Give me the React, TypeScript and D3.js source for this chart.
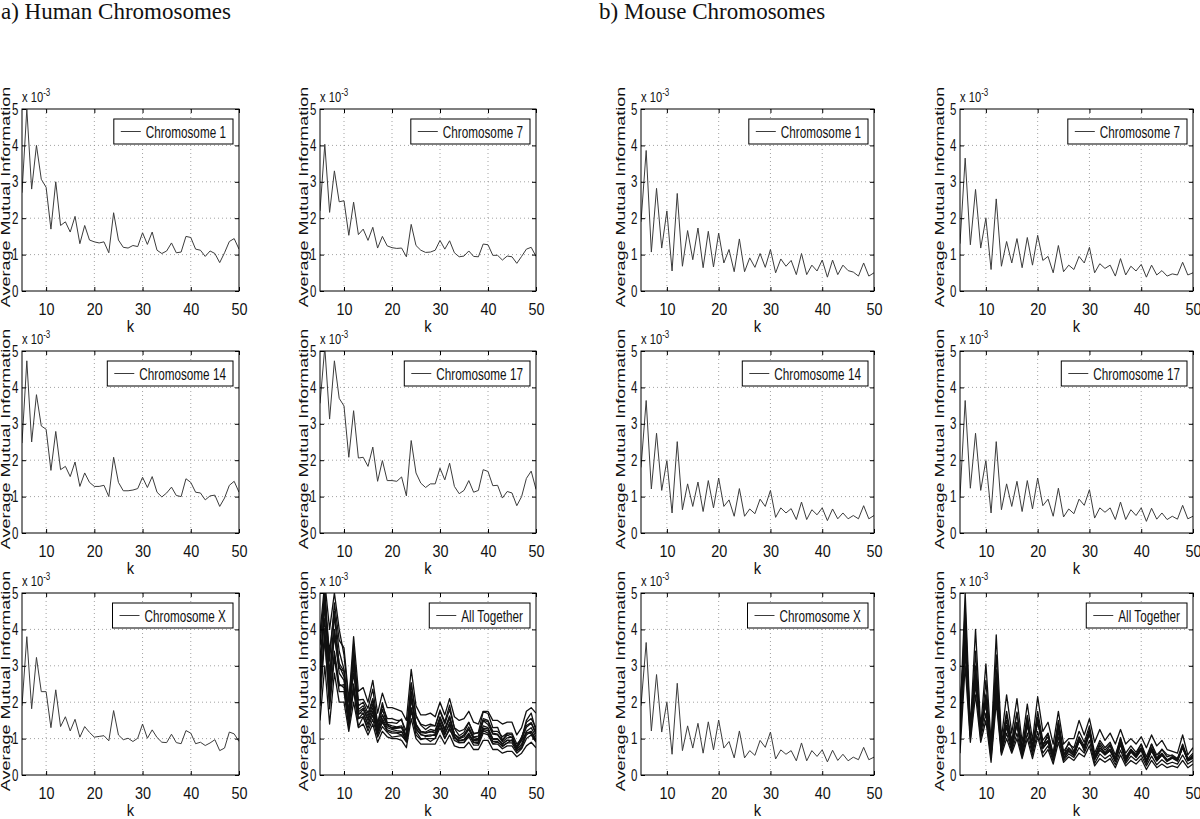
import React, { useEffect, useRef } from 'react';
import * as d3 from 'd3';

// ---------- data ----------
const K_VALUES = [5, 6, 7, 8, 9, 10, 11, 12, 13, 14, 15, 16, 17, 18, 19, 20, 21, 22, 23, 24, 25, 26, 27, 28, 29, 30,
  31, 32, 33, 34, 35, 36, 37, 38, 39, 40, 41, 42, 43, 44, 45, 46, 47, 48, 49, 50];
const X_TICKS = [10, 20, 30, 40, 50];
const Y_TICKS = [0, 1, 2, 3, 4, 5];
const GRID_X = [10, 20, 30, 40];
const GRID_Y = [1, 2, 3, 4];

const HUMAN_CHR1 = [2.7, 5.0, 2.8, 4.0, 3.07,
  2.85, 1.7, 3.0, 1.8, 1.9, 1.62, 2.05, 1.3, 1.8, 1.4,
  1.35, 1.32, 1.35, 1.05, 2.15, 1.4, 1.2, 1.18, 1.25, 1.22,
  1.6, 1.28, 1.62, 1.12, 1.03, 1.1, 1.32, 1.05, 1.07, 1.5,
  1.47, 1.15, 1.12, 0.95, 1.1, 1.03, 0.78, 1.05, 1.36, 1.44,
  1.15];
const HUMAN_CHR7 = [2.2, 4.03, 2.16, 3.3, 2.45,
  2.48, 1.53, 2.44, 1.55, 1.7, 1.39, 1.75, 1.18, 1.5, 1.24,
  1.19, 1.17, 1.18, 0.94, 1.83, 1.25, 1.12, 1.06, 1.07, 1.12,
  1.39, 1.15, 1.38, 1.05, 0.94, 0.96, 1.1, 0.95, 0.94, 1.29,
  1.27, 0.98, 0.98, 0.85, 0.96, 0.94, 0.76, 0.95, 1.15, 1.2,
  0.95];
const HUMAN_CHR14 = [2.47, 4.73, 2.5, 3.8, 2.94,
  2.85, 1.72, 2.79, 1.74, 1.83, 1.55, 1.95, 1.28, 1.65, 1.39,
  1.28, 1.28, 1.31, 1.0, 2.08, 1.39, 1.16, 1.16, 1.18, 1.22,
  1.53, 1.25, 1.55, 1.12, 0.99, 1.1, 1.26, 1.03, 1.0, 1.49,
  1.39, 1.12, 1.1, 0.91, 1.02, 1.04, 0.73, 0.96, 1.31, 1.42,
  1.12];
const HUMAN_CHR17 = [3.56, 5.1, 3.13, 4.73, 3.7,
  3.49, 2.08, 3.36, 2.06, 2.08, 1.83, 2.36, 1.42, 1.99, 1.44,
  1.44, 1.42, 1.54, 1.02, 2.54, 1.65, 1.37, 1.25, 1.35, 1.35,
  1.78, 1.46, 1.92, 1.28, 1.08, 1.17, 1.44, 1.12, 1.17, 1.74,
  1.69, 1.3, 1.31, 0.96, 1.14, 1.1, 0.75, 1.0, 1.5, 1.7,
  1.2];
const HUMAN_CHRX = [1.9, 3.8, 1.82, 3.23, 2.29,
  2.29, 1.3, 2.34, 1.33, 1.6, 1.21, 1.53, 1.04, 1.33, 1.17,
  1.04, 1.06, 1.08, 0.94, 1.77, 1.1, 0.97, 1.01, 0.92, 1.01,
  1.4, 1.01, 1.24, 1.03, 0.9, 0.89, 1.12, 0.89, 0.86, 1.22,
  1.15, 0.86, 0.9, 0.81, 0.88, 0.97, 0.67, 0.74, 1.18, 1.13,
  0.92];
const HUMAN_ALL_UPPER = [3.9, 5.3, 4.0, 5.0, 4.0,
  3.3, 2.0, 3.8, 2.3, 2.4, 2.0, 2.6, 1.7, 2.25, 1.85,
  1.85, 1.8, 1.75, 1.5, 2.9, 1.9, 1.65, 1.65, 1.7, 1.6,
  2.0, 1.65, 2.1, 1.6, 1.5, 1.55, 1.75, 1.45, 1.4, 1.75,
  1.75, 1.5, 1.5, 1.4, 1.45, 1.45, 1.1, 1.3, 1.75, 1.85,
  1.7];
const HUMAN_ALL_LOWER = [1.5, 3.0, 1.4, 2.8, 2.0,
  2.0, 1.2, 2.0, 1.3, 1.4, 1.1, 1.4, 0.9, 1.2, 1.05,
  1.0, 1.0, 0.95, 0.75, 1.55, 1.0, 0.85, 0.85, 0.85, 0.85,
  1.1, 0.85, 1.1, 0.8, 0.75, 0.75, 0.9, 0.7, 0.7, 0.95,
  0.95, 0.7, 0.7, 0.6, 0.65, 0.65, 0.5, 0.6, 0.8, 0.9,
  0.75];
const HUMAN_ALL_MID_A = [3.2, 4.6, 3.4, 4.5, 3.4,
  2.9, 1.7, 3.3, 1.9, 2.0, 1.7, 2.1, 1.4, 1.9, 1.55,
  1.55, 1.5, 1.5, 1.2, 2.5, 1.6, 1.4, 1.35, 1.4, 1.35,
  1.75, 1.4, 1.8, 1.3, 1.2, 1.25, 1.45, 1.15, 1.15, 1.55,
  1.5, 1.2, 1.2, 1.05, 1.15, 1.15, 0.85, 1.0, 1.45, 1.55,
  1.3];
const HUMAN_ALL_MID_B = [2.6, 3.7, 2.0, 3.4, 2.5,
  2.4, 1.4, 2.5, 1.55, 1.6, 1.3, 1.65, 1.1, 1.45, 1.2,
  1.15, 1.15, 1.1, 0.9, 1.85, 1.2, 1.0, 1.0, 1.0, 1.0,
  1.3, 1.0, 1.3, 0.95, 0.88, 0.9, 1.05, 0.82, 0.82, 1.15,
  1.1, 0.85, 0.85, 0.72, 0.8, 0.8, 0.6, 0.72, 1.0, 1.1,
  0.9];
const HUMAN_ALL_MID_C = [3.6, 5.0, 2.6, 4.4, 3.0,
  2.7, 1.55, 3.6, 1.65, 1.8, 1.5, 1.85, 1.2, 1.65, 1.35,
  1.3, 1.3, 1.3, 1.0, 2.3, 1.35, 1.2, 1.15, 1.2, 1.15,
  1.55, 1.2, 1.6, 1.1, 1.0, 1.05, 1.25, 0.98, 0.98, 1.35,
  1.3, 1.0, 1.0, 0.85, 0.95, 0.95, 0.7, 0.85, 1.2, 1.3,
  1.05];
const HUMAN_ALL_MID_D = [3.0, 4.3, 2.3, 3.9, 2.8,
  2.6, 1.45, 3.1, 1.7, 1.7, 1.4, 1.75, 1.15, 1.55, 1.3,
  1.25, 1.22, 1.2, 0.95, 2.1, 1.3, 1.1, 1.08, 1.1, 1.08,
  1.45, 1.1, 1.45, 1.02, 0.95, 0.98, 1.15, 0.9, 0.9, 1.25,
  1.22, 0.92, 0.92, 0.78, 0.88, 0.88, 0.65, 0.8, 1.1, 1.2,
  0.98];

const MOUSE_CHR1 = [1.9, 3.86, 1.07, 2.82, 1.18,
  2.2, 0.55, 2.68, 0.68, 1.66, 0.86, 1.73, 0.64, 1.64, 0.66,
  1.59, 0.77, 1.14, 0.53, 1.43, 0.53, 0.91, 0.65, 1.03, 0.65,
  1.14, 0.5, 0.88, 0.68, 0.84, 0.45, 1.03, 0.45, 0.71, 0.55,
  0.85, 0.38, 0.85, 0.45, 0.71, 0.56, 0.52, 0.41, 0.77, 0.41,
  0.5];
const MOUSE_CHR7 = [1.3, 3.65, 1.27, 2.79, 1.18,
  2.0, 0.59, 2.53, 0.68, 1.36, 0.77, 1.44, 0.64, 1.47, 0.71,
  1.53, 0.84, 0.95, 0.5, 1.25, 0.53, 0.71, 0.59, 0.95, 0.77,
  1.2, 0.5, 0.75, 0.62, 0.71, 0.41, 0.89, 0.44, 0.68, 0.55,
  0.73, 0.38, 0.71, 0.44, 0.56, 0.41, 0.47, 0.44, 0.79, 0.44,
  0.5];
const MOUSE_CHR14 = [1.8, 3.64, 1.21, 2.74, 1.17,
  1.99, 0.55, 2.51, 0.64, 1.35, 0.73, 1.4, 0.59, 1.44, 0.69,
  1.51, 0.73, 0.91, 0.46, 1.22, 0.46, 0.66, 0.53, 0.93, 0.73,
  1.17, 0.43, 0.69, 0.55, 0.67, 0.37, 0.85, 0.37, 0.64, 0.5,
  0.69, 0.34, 0.66, 0.39, 0.55, 0.39, 0.48, 0.39, 0.75, 0.39,
  0.48];
const MOUSE_CHR17 = [1.0, 3.64, 1.23, 2.74, 1.17,
  1.99, 0.55, 2.51, 0.64, 1.35, 0.73, 1.42, 0.59, 1.44, 0.66,
  1.51, 0.75, 0.93, 0.46, 1.23, 0.44, 0.66, 0.53, 0.93, 0.76,
  1.19, 0.41, 0.69, 0.57, 0.69, 0.37, 0.85, 0.37, 0.64, 0.48,
  0.69, 0.32, 0.68, 0.38, 0.55, 0.37, 0.46, 0.38, 0.76, 0.39,
  0.46];
const MOUSE_CHRX = [1.9, 3.64, 1.21, 2.76, 1.18,
  2.0, 0.57, 2.52, 0.67, 1.35, 0.74, 1.42, 0.6, 1.46, 0.69,
  1.51, 0.74, 0.92, 0.47, 1.21, 0.47, 0.67, 0.54, 0.95, 0.76,
  1.18, 0.44, 0.69, 0.57, 0.67, 0.39, 0.88, 0.39, 0.67, 0.51,
  0.69, 0.36, 0.68, 0.4, 0.57, 0.39, 0.49, 0.42, 0.76, 0.42,
  0.49];
const MOUSE_ALL_UPPER = [1.5, 5.0, 1.3, 4.0, 1.3,
  3.05, 0.9, 3.85, 1.0, 2.2, 1.15, 2.1, 0.9, 1.95, 0.95,
  2.15, 1.2, 1.45, 0.85, 1.75, 0.85, 1.0, 1.0, 1.5, 1.1,
  1.55, 0.9, 1.25, 0.95, 1.15, 0.85, 1.25, 0.85, 1.0, 0.85,
  1.05, 0.75, 1.1, 0.8, 0.95, 0.7, 0.65, 0.6, 1.1, 0.55,
  0.75];
const MOUSE_ALL_LOWER = [0.6, 3.0, 0.9, 2.2, 0.9,
  1.5, 0.35, 2.0, 0.55, 1.0, 0.6, 1.0, 0.45, 1.0, 0.45,
  1.05, 0.5, 0.7, 0.3, 0.9, 0.35, 0.5, 0.4, 0.6, 0.5,
  0.8, 0.25, 0.45, 0.35, 0.45, 0.2, 0.55, 0.25, 0.4, 0.3,
  0.45, 0.15, 0.4, 0.2, 0.3, 0.2, 0.25, 0.2, 0.4, 0.2,
  0.3];
const MOUSE_ALL_MID_A = [1.2, 4.6, 1.1, 3.4, 1.1,
  2.6, 0.7, 3.3, 0.85, 1.75, 0.95, 1.7, 0.75, 1.6, 0.8,
  1.75, 0.95, 1.15, 0.6, 1.5, 0.65, 0.85, 0.75, 1.2, 0.9,
  1.35, 0.6, 0.95, 0.75, 0.9, 0.55, 1.0, 0.6, 0.8, 0.62,
  0.85, 0.5, 0.85, 0.55, 0.7, 0.5, 0.55, 0.45, 0.85, 0.45,
  0.6];
const MOUSE_ALL_MID_B = [0.9, 3.4, 1.0, 2.5, 1.0,
  1.7, 0.45, 2.2, 0.6, 1.15, 0.65, 1.15, 0.5, 1.15, 0.55,
  1.2, 0.6, 0.8, 0.38, 1.05, 0.4, 0.58, 0.48, 0.75, 0.6,
  0.95, 0.32, 0.58, 0.45, 0.55, 0.28, 0.68, 0.32, 0.52, 0.4,
  0.55, 0.25, 0.52, 0.28, 0.42, 0.3, 0.35, 0.3, 0.55, 0.3,
  0.4];
const MOUSE_ALL_MID_C = [1.0, 4.2, 1.2, 3.0, 1.2,
  2.2, 0.6, 2.9, 0.75, 1.5, 0.85, 1.45, 0.65, 1.35, 0.7,
  1.45, 0.85, 1.05, 0.5, 1.35, 0.55, 0.75, 0.62, 1.05, 0.8,
  1.25, 0.5, 0.82, 0.6, 0.8, 0.45, 0.95, 0.5, 0.7, 0.55,
  0.75, 0.42, 0.75, 0.45, 0.6, 0.42, 0.5, 0.42, 0.8, 0.4,
  0.55];

const GROUP_TITLES = ['a) Human Chromosomes', 'b) Mouse Chromosomes'];
const Y_LABEL = 'Average Mutual Information';
const X_LABEL = 'k';

type Panel = { legend: string; series: number[][]; group: number; col: number; row: number };
const PANELS: Panel[] = [
  { legend: 'Chromosome 1', series: [HUMAN_CHR1], group: 0, col: 0, row: 0 },
  { legend: 'Chromosome 7', series: [HUMAN_CHR7], group: 0, col: 1, row: 0 },
  { legend: 'Chromosome 14', series: [HUMAN_CHR14], group: 0, col: 0, row: 1 },
  { legend: 'Chromosome 17', series: [HUMAN_CHR17], group: 0, col: 1, row: 1 },
  { legend: 'Chromosome X', series: [HUMAN_CHRX], group: 0, col: 0, row: 2 },
  {
    legend: 'All Together', group: 0, col: 1, row: 2,
    series: [HUMAN_ALL_UPPER, HUMAN_ALL_MID_C, HUMAN_ALL_MID_A, HUMAN_CHR17, HUMAN_CHR1, HUMAN_CHR14,
      HUMAN_ALL_MID_D, HUMAN_CHR7, HUMAN_ALL_MID_B, HUMAN_CHRX, HUMAN_ALL_LOWER],
  },
  { legend: 'Chromosome 1', series: [MOUSE_CHR1], group: 1, col: 2, row: 0 },
  { legend: 'Chromosome 7', series: [MOUSE_CHR7], group: 1, col: 3, row: 0 },
  { legend: 'Chromosome 14', series: [MOUSE_CHR14], group: 1, col: 2, row: 1 },
  { legend: 'Chromosome 17', series: [MOUSE_CHR17], group: 1, col: 3, row: 1 },
  { legend: 'Chromosome X', series: [MOUSE_CHRX], group: 1, col: 2, row: 2 },
  {
    legend: 'All Together', group: 1, col: 3, row: 2,
    series: [MOUSE_ALL_UPPER, MOUSE_ALL_MID_A, MOUSE_ALL_MID_C, MOUSE_CHR1, MOUSE_CHR7, MOUSE_CHR14,
      MOUSE_CHR17, MOUSE_CHRX, MOUSE_ALL_MID_B, MOUSE_ALL_LOWER],
  },
];

// ---------- layout ----------
const W = 1200;
const H = 819;
const COLS: [number, number][] = [[22, 239], [320, 536], [641, 874], [960, 1193]];
const ROWS: [number, number][] = [[109, 291], [351, 533], [593, 775]];
const GROUP_X = [1, 599];
const YLABEL_OFFSET = [16, 20];
const FONT = '"Liberation Sans", Arial, Helvetica, sans-serif';

export default function App() {
  const ref = useRef<SVGSVGElement | null>(null);

  useEffect(() => {
    const svg = d3.select(ref.current);
    svg.selectAll('*').remove();

    svg.append('rect').attr('width', W).attr('height', H).attr('fill', '#fff');

    GROUP_TITLES.forEach((t, i) => {
      svg.append('text').attr('x', GROUP_X[i]).attr('y', 19)
        .attr('font-family', '"Liberation Serif", "Times New Roman", serif')
        .attr('font-size', 23).attr('fill', '#111').text(t);
    });

    PANELS.forEach((p, i) => {
      const [x0, x1] = COLS[p.col];
      const [y0, y1] = ROWS[p.row];
      const x = d3.scaleLinear().domain([5, 50]).range([x0, x1]);
      const y = d3.scaleLinear().domain([0, 5]).range([y1, y0]);
      const many = p.series.length > 1;
      const g = svg.append('g');

      // grid
      g.append('g').selectAll('line').data(GRID_X).join('line')
        .attr('x1', (d) => x(d)).attr('x2', (d) => x(d)).attr('y1', y0).attr('y2', y1)
        .attr('stroke', '#8a8a8a').attr('stroke-width', 0.8).attr('stroke-dasharray', '1,3');
      g.append('g').selectAll('line').data(GRID_Y).join('line')
        .attr('y1', (d) => y(d)).attr('y2', (d) => y(d)).attr('x1', x0).attr('x2', x1)
        .attr('stroke', '#8a8a8a').attr('stroke-width', 0.8).attr('stroke-dasharray', '1,3');

      // clip + lines
      const clipId = `clip-${i}`;
      svg.append('clipPath').attr('id', clipId).append('rect')
        .attr('x', x0).attr('y', y0).attr('width', x1 - x0).attr('height', y1 - y0);
      const line = d3.line<number>().x((_, j) => x(K_VALUES[j])).y((d) => y(d));
      g.append('g').attr('clip-path', `url(#${clipId})`)
        .selectAll('path').data(p.series).join('path')
        .attr('d', (d) => line(d) as string)
        .attr('fill', 'none')
        .attr('stroke', many ? '#111' : '#3c3c3c')
        .attr('stroke-width', many ? 1.3 : 1)
        .attr('stroke-linejoin', 'round');

      // axes
      const styleAxis = (a: any, sx: number) => {
        a.select('.domain').remove();
        a.attr('font-family', FONT).attr('font-size', 16);
        a.selectAll('line').attr('stroke', '#000');
        a.selectAll('text').attr('fill', '#111').attr('transform', `scale(${sx},1)`);
      };
      const gx = g.append('g').attr('transform', `translate(0,${y1})`)
        .call(d3.axisBottom(x).tickValues(X_TICKS).tickSizeInner(-4).tickSizeOuter(0).tickPadding(13).tickFormat(d3.format('d')));
      styleAxis(gx, 0.9);
      const gxt = g.append('g').attr('transform', `translate(0,${y0})`)
        .call(d3.axisTop(x).tickValues(X_TICKS).tickSizeInner(-4).tickSizeOuter(0).tickFormat(() => ''));
      styleAxis(gxt, 1);
      const gy = g.append('g').attr('transform', `translate(${x0},0)`)
        .call(d3.axisLeft(y).tickValues(Y_TICKS).tickSizeInner(-4).tickSizeOuter(0).tickPadding(5).tickFormat(d3.format('d')));
      styleAxis(gy, 0.72);
      const gyr = g.append('g').attr('transform', `translate(${x1},0)`)
        .call(d3.axisRight(y).tickValues(Y_TICKS).tickSizeInner(-4).tickSizeOuter(0).tickFormat(() => ''));
      styleAxis(gyr, 1);

      // box
      g.append('rect').attr('x', x0).attr('y', y0).attr('width', x1 - x0).attr('height', y1 - y0)
        .attr('fill', 'none').attr('stroke', '#000').attr('stroke-width', 1);

      // x label
      g.append('text').attr('transform', `translate(${(x0 + x1) / 2},${y1 + 41}) scale(0.92,1)`)
        .attr('text-anchor', 'middle').attr('font-family', FONT).attr('font-size', 16).attr('fill', '#111')
        .text(X_LABEL);

      // y label
      const cx = x0 - YLABEL_OFFSET[p.group];
      const cy = (y0 + y1) / 2 - 3;
      g.append('text').attr('transform', `translate(${cx},${cy}) scale(0.7,1) rotate(-90)`)
        .attr('text-anchor', 'middle').attr('dominant-baseline', 'central')
        .attr('font-family', FONT).attr('font-size', 18).attr('fill', '#111').text(Y_LABEL);

      // exponent
      const ex = g.append('text').attr('transform', `translate(${x0},${y0 - 7}) scale(0.8,1)`)
        .attr('font-family', FONT).attr('font-size', 14).attr('fill', '#111');
      ex.append('tspan').text('x 10');
      ex.append('tspan').attr('font-size', 10).attr('dy', -6).text('-3');

      // legend
      const lg = g.append('g');
      const boxRight = x1 - 6;
      const boxTop = y0 + 10;
      const boxH = 25;
      const sx = 0.69;
      const t = lg.append('text').attr('font-family', FONT).attr('font-size', 17).attr('fill', '#111')
        .attr('dominant-baseline', 'central').text(p.legend);
      const tw = ((t.node() as SVGTextElement).getComputedTextLength()) * sx;
      const tx = boxRight - 7 - tw;
      t.attr('transform', `translate(${tx},${boxTop + boxH / 2 + 1}) scale(${sx},1)`);
      const bx = tx - 32;
      lg.insert('rect', 'text').attr('x', bx).attr('y', boxTop).attr('width', boxRight - bx).attr('height', boxH)
        .attr('fill', '#fff').attr('stroke', '#000').attr('stroke-width', 1);
      lg.append('line').attr('x1', tx - 25).attr('x2', tx - 5)
        .attr('y1', boxTop + boxH / 2).attr('y2', boxTop + boxH / 2)
        .attr('stroke', '#3c3c3c').attr('stroke-width', 1);
    });
  }, []);

  return (
    <svg ref={ref} width={W} height={H}
      style={{ position: 'absolute', left: 0, top: 0, display: 'block', background: '#fff' }} />
  );
}
